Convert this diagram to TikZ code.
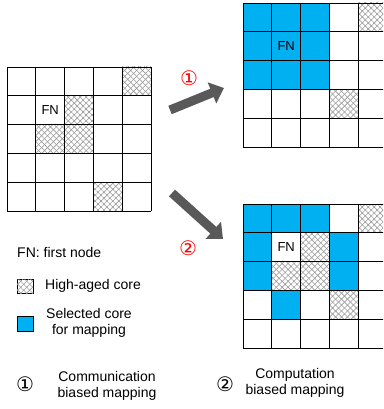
\documentclass[tikz,border=0pt]{standalone}
\usepackage{fontspec}
\setmainfont{Liberation Sans}
\newfontfamily\circfont{DejaVu Sans}
\usetikzlibrary{patterns.meta,arrows.meta}
\definecolor{selblue}{HTML}{00B0F0}
\definecolor{arrgray}{HTML}{595959}
\definecolor{hatchgray}{HTML}{9A9A9A}
\tikzset{
  gridline/.style={draw=black, line width=0.9pt},
  hatchcell/.style={fill=white,
    postaction={pattern={Lines[angle=45,distance=4.2pt,line width=0.6pt]}, pattern color=hatchgray},
    postaction={pattern={Lines[angle=-45,distance=4.2pt,line width=0.6pt]}, pattern color=hatchgray}},
  bluecell/.style={fill=selblue},
  lbl/.style={font=\fontsize{14}{15.5}\selectfont, inner sep=0pt},
  fnlbl/.style={font=\fontsize{13}{15}\selectfont, inner sep=0pt},
  circnum/.style={font=\circfont\fontsize{20}{22}\selectfont, inner sep=0pt},
  bigarrow/.style={draw=arrgray, line width=9pt, -{Triangle[length=13pt,width=22pt]}}
}
\begin{document}
\begin{tikzpicture}[x=1pt,y=-1pt]
\useasboundingbox (0,0) rectangle (383,409);
\clip (0,0) rectangle (383,409);
\def\cs{28.8}
% ---------- left grid ----------
\begin{scope}[shift={(7,67)}]
  \foreach \r/\c in {0/4,1/2,2/1,2/2,4/3}
    \path[hatchcell] (\c*\cs,\r*\cs) rectangle ++(\cs,\cs);
  \foreach \i in {0,...,5} {
    \draw[gridline] (\i*\cs,0) -- (\i*\cs,5*\cs);
    \draw[gridline] (0,\i*\cs) -- (5*\cs,\i*\cs);
  }
  \node[fnlbl] (fnA) at (1.5*\cs,1.5*\cs) {FN};
\end{scope}
% ---------- top right grid ----------
\begin{scope}[shift={(243,3)}]
  \foreach \r/\c in {0/0,0/1,0/2,1/0,1/1,1/2,2/0,2/1,2/2}
    \path[bluecell] (\c*\cs,\r*\cs) rectangle ++(\cs,\cs);
  \foreach \r/\c in {0/4,3/3}
    \path[hatchcell] (\c*\cs,\r*\cs) rectangle ++(\cs,\cs);
  \foreach \i in {0,...,5} {
    \draw[gridline] (\i*\cs,0) -- (\i*\cs,5*\cs);
    \draw[gridline] (0,\i*\cs) -- (5*\cs,\i*\cs);
  }
  \node[fnlbl] (fnB) at (1.5*\cs,1.5*\cs) {FN};
\end{scope}
% ---------- bottom right grid ----------
\begin{scope}[shift={(243,204)}]
  \foreach \r/\c in {0/0,0/1,0/2,1/0,1/3,2/0,2/3,3/1}
    \path[bluecell] (\c*\cs,\r*\cs) rectangle ++(\cs,\cs);
  \foreach \r/\c in {0/4,1/2,2/1,2/2,3/3}
    \path[hatchcell] (\c*\cs,\r*\cs) rectangle ++(\cs,\cs);
  \foreach \i in {0,...,5} {
    \draw[gridline] (\i*\cs,0) -- (\i*\cs,5*\cs);
    \draw[gridline] (0,\i*\cs) -- (5*\cs,\i*\cs);
  }
  \node[fnlbl] (fnC) at (1.5*\cs,1.5*\cs) {FN};
\end{scope}
% ---------- arrows ----------
\coordinate (a1s) at (170,110);
\coordinate (a1e) at (224,88);
\coordinate (a2s) at (172,193);
\coordinate (a2e) at (223,239);
\draw[bigarrow] (a1s) -- (a1e);
\draw[bigarrow] (a2s) -- (a2e);
\node[circnum, text=red] (c1) at (189,78) {①};
\node[circnum, text=red] (c2) at (188,248) {②};
% ---------- legend ----------
\node[lbl, anchor=west] (fnleg) at (17,252) {FN: first node};
\path[hatchcell, draw=black, line width=0.6pt] (17,279) rectangle (33,293);
\node[lbl, anchor=west] (hleg) at (45,286) {High-aged core};
\path[fill=selblue, draw=black, line width=0.6pt] (17,316) rectangle (33,331);
\node[lbl, align=center] (sleg) at (89,323) {Selected core\\for mapping};
\node[circnum] (n1) at (25,384) {①};
\node[lbl, align=center] (m1) at (107,386) {Communication\\biased mapping};
\node[circnum] (n2) at (225,384) {②};
\node[lbl, align=center] (m2) at (295,383) {Computation\\biased mapping};
\end{tikzpicture}
\end{document}
